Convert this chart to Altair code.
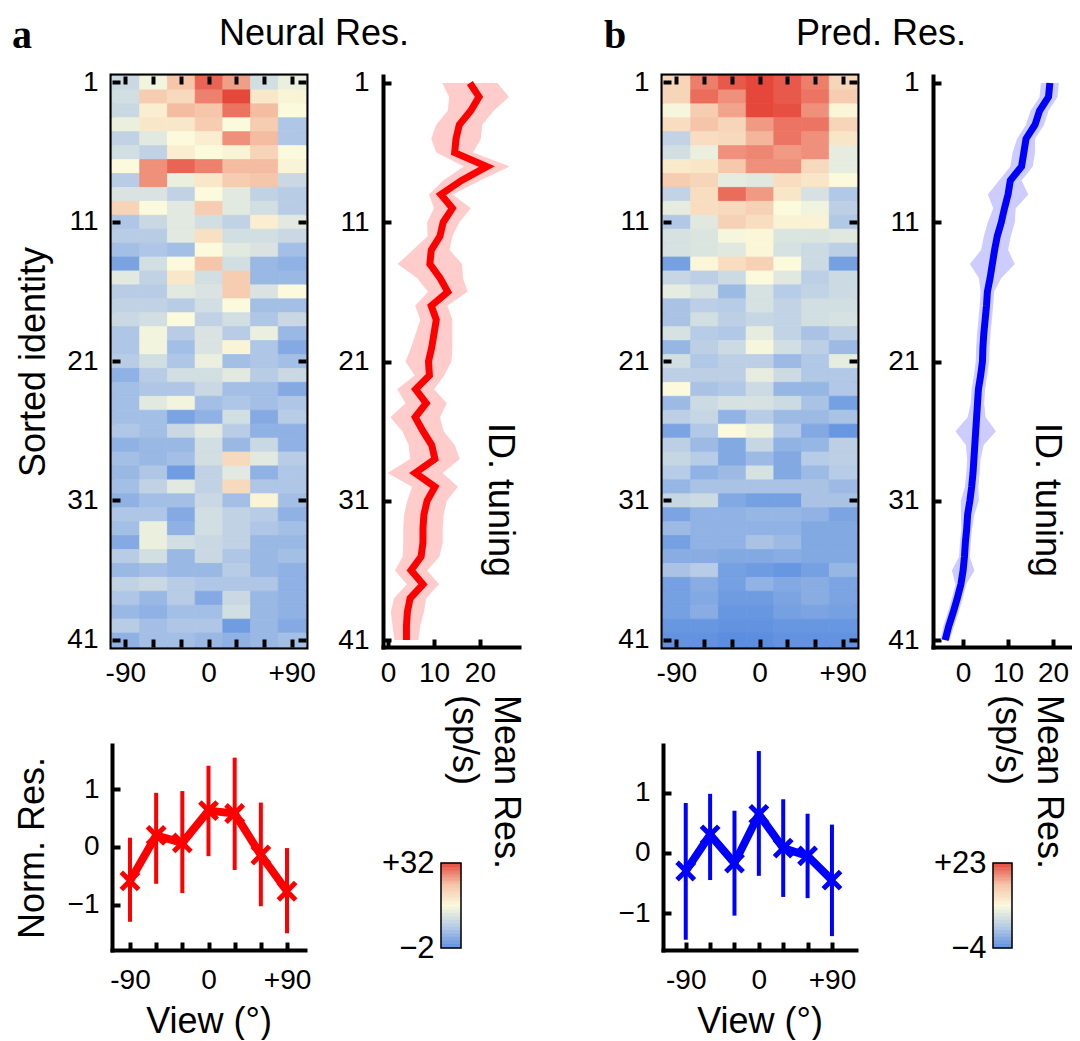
import altair as alt
import numpy as np
import pandas as pd

FONT = "Liberation Sans"
SERIF = "Liberation Serif"

# ---------------- data ----------------
views = [-90, -60, -30, 0, 30, 60, 90]
rows = list(range(1, 42))
row_ticks = [1, 11, 21, 31, 41]
tuning_ticks = [0, 10, 20]
norm_ticks = [-1, 0, 1]

neural_heat = [
    [9, 14, 23, 30, 26, 10, 13], [10, 22, 20, 28, 32, 18, 16], [9, 17, 24, 23, 29, 24, 15],
    [13, 18, 18, 22, 15, 22, 6], [8, 12, 15, 17, 27, 24, 6], [10, 8, 17, 15, 16, 21, 15],
    [15, 27, 30, 28, 24, 24, 16], [7, 27, 13, 18, 22, 23, 9], [11, 11, 8, 15, 12, 8, 7],
    [21, 15, 12, 22, 12, 10, 7], [6, 9, 12, 10, 8, 17, 12], [7, 7, 12, 19, 10, 10, 9],
    [5, 6, 5, 15, 12, 11, 5], [1, 10, 15, 23, 10, 4, 3], [12, 8, 18, 10, 22, 4, 4],
    [7, 7, 12, 11, 22, 11, 15], [8, 8, 7, 10, 15, 5, 5], [9, 10, 15, 8, 10, 6, 9],
    [6, 14, 7, 11, 7, 13, 4], [6, 14, 5, 11, 16, 6, 2], [7, 10, 6, 13, 5, 6, 5],
    [3, 7, 10, 10, 12, 7, 9], [5, 6, 6, 9, 5, 5, 2], [5, 12, 14, 5, 6, 5, 6],
    [5, 5, 1, 3, 10, 2, 7], [6, 5, 9, 12, 7, 3, 3], [3, 4, 4, 10, 4, 9, 3],
    [5, 4, 5, 10, 20, 12, 7], [4, 6, 0, 8, 12, 3, 6], [5, 8, 12, 8, 20, 6, 6],
    [3, 5, 5, 9, 5, 16, 5], [6, 6, 2, 10, 8, 7, 3], [5, 13, 3, 10, 8, 6, 5],
    [2, 13, 10, 9, 8, 4, 4], [7, 10, 4, 9, 6, 4, 5], [4, 5, 4, 4, 7, 4, 3],
    [8, 9, 7, 6, 6, 6, 3], [6, 4, 7, 2, 9, 4, 3], [4, 3, 5, 5, 10, 4, 3],
    [7, 5, 6, 6, 0, 4, 2], [3, 5, 5, 4, 3, 4, 5],
]

pred_heat = [
    [14, 20, 22, 23, 22, 20, 14], [14, 21, 19, 23, 22, 20.5, 15], [9, 15, 18, 23, 22.5, 19, 10],
    [13, 16, 14, 18.5, 20.5, 20.5, 14], [4, 13, 13.5, 17, 20.5, 19, 12], [5.5, 8, 19, 19.5, 18.5, 19, 7.5],
    [11.5, 12, 15.5, 19, 19, 13.5, 7.5], [15, 14, 7.5, 7, 13, 12, 9.5], [4, 13, 21, 18.5, 12, 6, 2.5],
    [7.5, 13, 13.5, 14.5, 9.5, 8.5, 3.5], [2.5, 7, 14.5, 13, 10.5, 10.5, 2.5], [6, 6.5, 9, 10, 6.5, 6.5, 7],
    [6, 6.5, 7, 10, 6, 5, 3.5], [-2, 10, 13, 14.5, 9.5, 5, -2], [4.5, 3.5, 5, 9.5, 7, 3.5, 5],
    [7.5, 6, 1, 6, 3, 4, 5], [2, 3.5, 3, 6, 4, 5.5, 5.5], [2, 5.5, 3.5, 4.5, 4, 5.5, 6],
    [6, 3, 2.5, 7.5, 4, 2, 3.5], [0.5, 3.5, 5, 9, 5.5, 3.5, 1], [5.5, 2.5, 3.5, 3.5, 1, 2.5, 7.5],
    [3.5, 3.5, 3.5, 7.5, 5, 2.5, 2.5], [9.5, 2, 2.5, 5, 0.5, 0.5, 2.5], [1, 5, 6, 6, 5, 2, -2],
    [3.5, 4.5, 0, 3, 1, 1, 2], [-1.5, 2.5, 9.5, 8, 2.5, -1, -3], [3.5, 1, -1, 4.5, 0, 0.5, 3.5],
    [4.5, 3, -1, 1, -1, 3, 3.5], [3, 0, 1, 6, -1, 1, 3], [0.5, 2, 2, 2, 2, 2, 1],
    [4.5, 5, -1, -2, -2, 2, 2], [-1.5, 0, 0, 0.5, 0.5, 0, -1.5], [1, 0, 0, 0, 0, -1, -1],
    [-2, 0, 0, 2, 1, -1, -1], [-0.5, -0.5, -1, -1, -0.5, -1, -1], [2, 3, -2, -2.5, -3, -2, 0.5],
    [-2, -0.5, -2, 0, -1, -0.5, -1.5], [-2, -1, -2.5, -2.5, -1.5, -0.5, -1.5], [-2, -0.5, -3, -3, -2, -1.5, -2],
    [-3, -3, -3.5, -3.5, -3, -3, -3], [-3.5, -3.5, -4, -4, -3.5, -3.5, -3.5],
]

neural_tuning = [17.8, 19.8, 18.0, 15.5, 14.8, 14.5, 21.5, 16.0, 11.5, 14.0, 12.0, 11.3, 9.4, 9.1,
                 11.3, 13.0, 9.4, 10.5, 10.0, 9.5, 8.8, 9.0, 6.0, 8.3, 5.9, 7.6, 9.5, 10.2, 5.9,
                 10.2, 8.5, 7.8, 7.6, 7.6, 7.2, 5.0, 7.6, 4.8, 4.2, 4.0, 4.0]
neural_tuning_sem = [6, 6.5, 5, 5, 5.4, 4, 5, 4, 2.6, 4, 3.5, 2.7, 4, 7, 5, 4.3, 3.5, 3.5, 4, 4.5, 5,
                     3.2, 4, 4.5, 5.4, 4.5, 5, 5.4, 6, 5, 4.3, 4.3, 4.3, 4.3, 4, 3.5, 3.5, 3.5, 3.6, 3, 2.6]
pred_tuning = [19.3, 19.0, 17.0, 16.0, 14.0, 13.5, 13.0, 10.5, 10.0, 9.2, 8.5, 7.6, 7.0, 6.5, 6.0,
               5.4, 5.2, 4.9, 4.6, 4.4, 4.3, 3.9, 3.4, 3.2, 3.0, 2.8, 2.6, 2.4, 2.2, 1.9, 1.5, 1.0,
               0.8, 0.5, 0.3, 0.0, -0.5, -1.3, -2.2, -3.2, -4.0]
pred_tuning_sem = [2, 2, 2, 2, 2, 2.5, 2.5, 2.5, 4.5, 2.5, 3, 3, 3, 5, 2.5, 1.5, 1.5, 1.5, 1.5, 1.5,
                   1.5, 1.5, 1.5, 1.5, 2, 4.5, 2, 1.5, 1.5, 1.5, 2, 1.5, 1.2, 1.2, 1.2, 2.5, 1.2,
                   1.2, 1.2, 1.2, 1.0]

neural_norm = [-0.59, 0.20, 0.07, 0.63, 0.58, -0.14, -0.77]
neural_norm_lo = [-1.30, -0.64, -0.80, -0.16, -0.40, -1.03, -1.50]
neural_norm_hi = [0.16, 0.94, 0.97, 1.41, 1.55, 0.77, -0.02]
pred_norm = [-0.30, 0.30, -0.17, 0.64, 0.08, -0.05, -0.45]
pred_norm_lo = [-1.44, -0.45, -1.04, -0.38, -0.73, -0.75, -1.38]
pred_norm_hi = [0.83, 0.98, 0.70, 1.69, 0.89, 0.65, 0.47]

neural_range = [-2, 32]
pred_range = [-4, 23]
neural_cbar_labels = ["\u22122", "+32"]
pred_cbar_labels = ["\u22124", "+23"]

CMAP = ["#5b8ee0", "#b4cae6", "#fbfadc", "#f5c3a7", "#e5473a"]

TICK = 8
TW = 4
PAD = 1  # column padding of the grid

VIEW_LABELS = "datum.value == -90 ? '-90' : datum.value == 0 ? '0' : datum.value == 90 ? '+90' : ''"


def cscale(lo, hi):
    dom = [lo + i * (hi - lo) / 4 for i in range(5)]
    return alt.Scale(domain=dom, range=CMAP, interpolate="rgb", clamp=True)


def label(text, x, y, size=36, font=FONT, weight="normal", align="center", angle=0, baseline="alphabetic",
          line_height=None):
    kw = dict(fontSize=size, font=font, fontWeight=weight, align=align, baseline=baseline, color="black")
    if angle:
        kw["angle"] = angle
    if line_height:
        kw["lineBreak"] = "\n"
        kw["lineHeight"] = line_height
    return alt.Chart(pd.DataFrame({"t": [text]})).mark_text(**kw).encode(
        text="t:N", x=alt.value(x), y=alt.value(y))


def heatmap(mat, rng, letter, letter_x, ytitle):
    recs = [{"row": r + 1, "view": v, "val": mat[r][c]} for r in range(41) for c, v in enumerate(views)]
    df = pd.DataFrame(recs)
    xs = alt.Scale(domain=views, paddingInner=0, paddingOuter=0)
    ys = alt.Scale(domain=rows, paddingInner=0, paddingOuter=0)
    yaxis_kw = dict(orient="left", values=row_ticks, offset=-TICK, tickSize=TICK, tickWidth=TW,
                    domain=False, labelPadding=14)
    if ytitle:
        yaxis_kw.update(title=ytitle, titlePadding=14)
    else:
        yaxis_kw.update(title=None)
    main = alt.Chart(df).mark_rect(strokeWidth=0.8).encode(
        x=alt.X("view:O", scale=xs, axis=alt.Axis(orient="bottom", values=views, labelExpr=VIEW_LABELS,
                                                   offset=-TICK, tickSize=TICK, tickWidth=TW, domain=False,
                                                   labelPadding=12, labelAngle=0, title=None)),
        y=alt.Y("row:O", scale=ys, axis=alt.Axis(**yaxis_kw)),
        color=alt.Color("val:Q", scale=cscale(*rng), legend=None),
        stroke=alt.Stroke("val:Q", scale=cscale(*rng), legend=None),
    )
    tk = alt.Chart(df).mark_rect(opacity=0).encode(
        x=alt.X("view:O", scale=xs, axis=alt.Axis(orient="top", values=views, labels=False, offset=-TICK,
                                                   tickSize=TICK, tickWidth=TW, domain=False, title=None)),
        y=alt.Y("row:O", scale=ys, axis=alt.Axis(orient="right", values=row_ticks, labels=False, offset=-TICK,
                                                  tickSize=TICK, tickWidth=TW, domain=False, title=None)),
    )
    let = label(letter, letter_x, -28, size=40, font=SERIF, weight="bold", align="left")
    return alt.layer(main, tk, let).resolve_axis(x="independent", y="independent").properties(
        width=194, height=571,
        view=alt.ViewBackground(stroke="black", strokeWidth=5),
    )


def tuning(mean, sem, color, band_color, xdom, width, title, title_x, mr_x, id_x):
    df = pd.DataFrame({"row": rows, "m": mean,
                       "lo": [a - b for a, b in zip(mean, sem)],
                       "hi": [a + b for a, b in zip(mean, sem)]})
    ys = alt.Scale(domain=[0.5, 41.5], reverse=True, nice=False, zero=False)
    xs = alt.Scale(domain=xdom, nice=False, zero=False)
    band = alt.Chart(df).mark_area(orient="horizontal", color=band_color).encode(
        y=alt.Y("row:Q", scale=ys, axis=alt.Axis(orient="left", values=row_ticks, ticks=False, domain=True,
                                                  domainWidth=TW, domainCap="square", labelPadding=14, title=None)),
        x=alt.X("lo:Q", scale=xs, axis=alt.Axis(orient="bottom", values=tuning_ticks, ticks=False, domain=True,
                                                 domainWidth=TW, domainCap="square", labelPadding=12, title=None)),
        x2="hi:Q",
    )
    line = alt.Chart(df).mark_line(color=color, strokeWidth=7).encode(
        y=alt.Y("row:Q", scale=ys, axis=None),
        x=alt.X("m:Q", scale=xs, axis=None),
        order="row:Q",
    )
    tk = alt.Chart(df).mark_point(opacity=0).encode(
        y=alt.Y("row:Q", scale=ys, axis=alt.Axis(orient="left", values=row_ticks, labels=False, domain=False,
                                                  offset=-TICK, tickSize=TICK, tickWidth=TW, title=None)),
        x=alt.X("m:Q", scale=xs, axis=alt.Axis(orient="bottom", values=tuning_ticks, labels=False, domain=False,
                                                offset=-TICK, tickSize=TICK, tickWidth=TW, title=None)),
    )
    t_id = label("ID. tuning", id_x, 424, angle=90, baseline="middle")
    t_mr = label("Mean Res.\n(sp/s)", mr_x, 619, angle=90, align="left", line_height=42)
    t_title = label(title, title_x, -31)
    return alt.layer(band, line, tk, t_id, t_mr, t_title).resolve_axis(
        x="independent", y="independent").properties(width=width, height=571)


def normplot(m, lo, hi, color, xdom, ydom, ytitle):
    df = pd.DataFrame({"view": views, "m": m, "lo": lo, "hi": hi})
    xs = alt.Scale(domain=xdom, nice=False, zero=False)
    ys = alt.Scale(domain=ydom, nice=False, zero=False)
    yk = dict(orient="left", values=norm_ticks, ticks=False, domainWidth=TW, domainCap="square", labelPadding=13)
    if ytitle:
        yk.update(title=ytitle, titlePadding=16)
    else:
        yk.update(title=None)
    line = alt.Chart(df).mark_line(color=color, strokeWidth=8).encode(
        x=alt.X("view:Q", scale=xs, axis=alt.Axis(orient="bottom", values=[-90, 0, 90], labelExpr=VIEW_LABELS,
                                                   ticks=False, domainWidth=TW, domainCap="square",
                                                   labelPadding=16, title="View (\u00b0)", titlePadding=10)),
        y=alt.Y("m:Q", scale=ys, axis=alt.Axis(**yk)),
    )
    err = alt.Chart(df).mark_rule(color=color, strokeWidth=4).encode(
        x=alt.X("view:Q", scale=xs, axis=None),
        y=alt.Y("lo:Q", scale=ys, axis=None),
        y2="hi:Q",
    )
    pts = alt.Chart(df).mark_point(shape="M-1,-1L1,1M1,-1L-1,1", size=300, strokeWidth=5, filled=False,
                                   color=color, opacity=1).encode(
        x=alt.X("view:Q", scale=xs, axis=None),
        y=alt.Y("m:Q", scale=ys, axis=None),
    )
    tk = alt.Chart(df).mark_point(opacity=0).encode(
        x=alt.X("view:Q", scale=xs, axis=alt.Axis(orient="bottom", values=views, labels=False, domain=False,
                                                   offset=-TICK, tickSize=TICK, tickWidth=TW, title=None)),
        y=alt.Y("m:Q", scale=ys, axis=alt.Axis(orient="left", values=norm_ticks, labels=False, domain=False,
                                                offset=-TICK, tickSize=TICK, tickWidth=TW, title=None)),
    )
    return alt.layer(line, err, pts, tk).resolve_axis(x="independent", y="independent").properties(
        width=193, height=205)


def colorbar(rng, labels, width, bar_x, bar_w):
    lo, hi = rng
    edges = np.linspace(lo, hi, 61)
    df = pd.DataFrame({"v0": edges[:-1], "v1": edges[1:], "c": (edges[:-1] + edges[1:]) / 2})
    span = hi - lo
    ys = alt.Scale(domain=[lo - 2 / 85 * span, hi + 118 / 85 * span], nice=False, zero=False)
    lab_expr = "datum.value == %s ? '%s' : '%s'" % (hi, labels[1], labels[0])
    strips = alt.Chart(df).mark_rect(strokeWidth=0.6).encode(
        y=alt.Y("v0:Q", scale=ys, axis=None),
        y2="v1:Q",
        x=alt.value(bar_x), x2=alt.value(bar_x + bar_w),
        color=alt.Color("c:Q", scale=cscale(lo, hi), legend=None),
        stroke=alt.Stroke("c:Q", scale=cscale(lo, hi), legend=None),
    )
    border = alt.Chart(pd.DataFrame({"lo": [lo], "hi": [hi]})).mark_rect(
        fillOpacity=0, stroke="black", strokeWidth=1.5).encode(
        y=alt.Y("lo:Q", scale=ys, axis=alt.Axis(orient="left", values=[lo, hi], labelExpr=lab_expr, ticks=False,
                                                 domain=False, labelPadding=7, labelFontSize=31, title=None,
                                                 offset=-bar_x)),
        y2="hi:Q", x=alt.value(bar_x), x2=alt.value(bar_x + bar_w))
    return alt.layer(strips, border).resolve_axis(y="independent").properties(width=width, height=205)


def spacer(w):
    return alt.Chart(pd.DataFrame({"s": [0]})).mark_point(opacity=0).encode(
        x=alt.value(0), y=alt.value(0)).properties(width=w, height=1)


# column widths of the 7-column grid (both rows share them)
W = [194, 75, 136, 142, 194, 74, 138]

heatA = heatmap(neural_heat, neural_range, "a", -100, "Sorted identity")
heatB = heatmap(pred_heat, pred_range, "b", -59, None)
tunA = tuning(neural_tuning, neural_tuning_sem, "#ff0000", "#ffcccc", [-1.1, 28.5], W[2],
              "Neural Res.", -69, 112, 117)
tunB = tuning(pred_tuning, pred_tuning_sem, "#0000ff", "#ccccff", [-6.7, 24.0], W[6],
              "Pred. Res.", -52, 105, 114)
bA = normplot(neural_norm, neural_norm_lo, neural_norm_hi, "#ff0000", [-110.6, 110.6], [-1.79, 1.77], "Norm. Res.")
bB = normplot(pred_norm, pred_norm_lo, pred_norm_hi, "#0000ff", [-118, 119.6], [-1.61, 1.79], None)
cA = colorbar(neural_range, neural_cbar_labels, W[2], 58, 20)
cB = colorbar(pred_range, pred_cbar_labels, W[6], 60, 19)

chart = alt.concat(
    heatA, spacer(W[1]), tunA, spacer(W[3]), heatB, spacer(W[5]), tunB,
    bA, spacer(W[1]), cA, spacer(W[3]), bB, spacer(W[5]), cB,
    columns=7,
    spacing={"row": 98, "column": PAD},
    bounds="flush",
).resolve_scale(
    color="independent", stroke="independent"
).configure(
    font=FONT, padding={"left": 1, "top": 5, "right": 0, "bottom": 0}
).configure_view(
    stroke="transparent"
).configure_axis(
    labelFont=FONT, titleFont=FONT, labelFontSize=28, titleFontSize=36, labelColor="black",
    titleColor="black", titleFontWeight="normal", grid=False, domainColor="black", tickColor="black"
)

chart.save("out.html", embed_options={"renderer": "svg", "actions": False})
